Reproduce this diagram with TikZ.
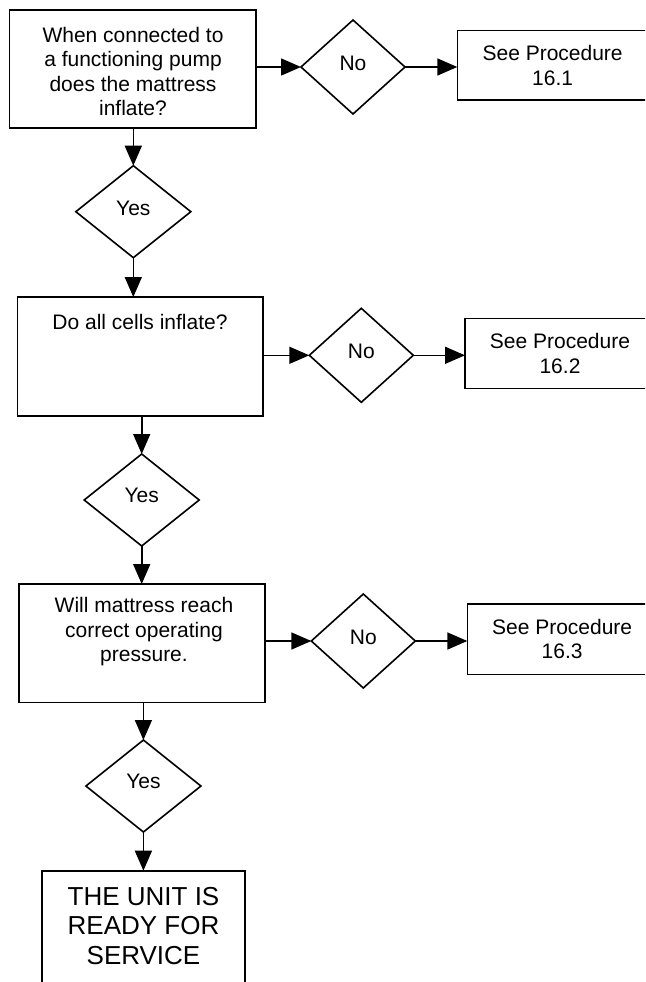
\documentclass[tikz,border=0pt]{standalone}
\usepackage{fontspec}
\setmainfont{Liberation Sans}
\usetikzlibrary{shapes.geometric,arrows.meta}
\tikzset{
  every node/.style={inner sep=0pt, outer sep=0pt},
  box/.style={draw, line width=1.6pt, rectangle},
  dia/.style={draw, line width=1.6pt, diamond, minimum width=104pt, minimum height=94pt},
  ydia/.style={draw, line width=1.6pt, diamond, minimum width=115pt, minimum height=92pt},
  txt/.style={align=center, font=\fontsize{21}{24.5}\selectfont},
  bigtxt/.style={align=center, font=\fontsize{26}{29.5}\selectfont},
  conn/.style={line width=1.6pt, -{Triangle[length=20pt, width=17pt]}}
}
\begin{document}
\begin{tikzpicture}[x=1pt, y=-1pt]
\useasboundingbox (0,0) rectangle (645,982);
\clip (0,0) rectangle (645,982);

% Row 1
\node[box, minimum width=246.5pt, minimum height=118pt] (b1) at (132.75,69) {};
\node[txt] (b1t) at (133,71.5) {When connected to\\a functioning pump\\does the mattress\\inflate?};
\node[dia] (no1) at (353,67) {};
\node[txt] (no1t) at ([yshift=4pt]no1.center) {No};
\node[box, minimum width=190.7pt, minimum height=69.3pt, txt] (p1) at (552.65,65.35) {See Procedure\\16.1};
\node[ydia] (y1) at (133.3,211.7) {};
\node[txt] (y1t) at ([yshift=3.5pt]y1.center) {Yes};

% Row 2
\node[box, minimum width=245.4pt, minimum height=119pt] (b2) at (140,356.5) {};
\node[txt] (b2t) at (140,321.7) {Do all cells inflate?};
\node[dia] (no2) at (361.3,355.3) {};
\node[txt] (no2t) at ([yshift=4pt]no2.center) {No};
\node[box, minimum width=190pt, minimum height=70pt, txt] (p2) at (560,353.3) {See Procedure\\16.2};
\node[ydia] (y2) at (141.7,500) {};
\node[txt] (y2t) at ([yshift=5pt]y2.center) {Yes};

% Row 3
\node[box, minimum width=246pt, minimum height=118.3pt] (b3) at (142,643.15) {};
\node[txt] (b3t) at (144,632) {Will mattress reach\\correct operating\\pressure.};
\node[dia] (no3) at (363.3,641) {};
\node[txt] (no3t) at ([yshift=4pt]no3.center) {No};
\node[box, minimum width=189.7pt, minimum height=70.3pt, txt] (p3) at (562.15,639.15) {See Procedure\\16.3};
\node[ydia] (y3) at (143.4,786) {};
\node[txt] (y3t) at ([yshift=4.5pt]y3.center) {Yes};

% Final
\node[box, minimum width=203.3pt, minimum height=139.3pt] (fin) at (143.35,940.35) {};
\node[bigtxt] (fint) at (143.5,926) {THE UNIT IS\\READY FOR\\SERVICE};

% Connectors
\draw[conn] (no1.west -| b1.east) -- (no1.west);
\draw[conn] (no1.east) -- (no1.east -| p1.west);
\draw[conn] (y1.north |- b1.south) -- (y1.north);
\draw[conn] (y1.south) -- (y1.south |- b2.north);

\draw[conn] (no2.west -| b2.east) -- (no2.west);
\draw[conn] (no2.east) -- (no2.east -| p2.west);
\draw[conn] (y2.north |- b2.south) -- (y2.north);
\draw[conn] (y2.south) -- (y2.south |- b3.north);

\draw[conn] (no3.west -| b3.east) -- (no3.west);
\draw[conn] (no3.east) -- (no3.east -| p3.west);
\draw[conn] (y3.north |- b3.south) -- (y3.north);
\draw[conn] (y3.south) -- (y3.south |- fin.north);
\end{tikzpicture}
\end{document}
